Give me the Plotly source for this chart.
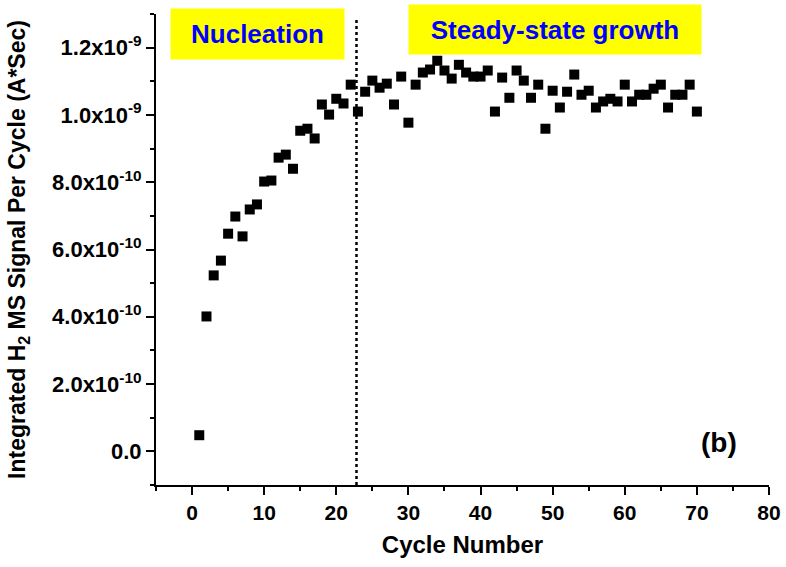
import plotly.graph_objects as go

cycles = list(range(1, 71))
signal = [
    0.048e-9, 0.401e-9, 0.523e-9, 0.567e-9, 0.647e-9, 0.698e-9, 0.639e-9, 0.719e-9, 0.734e-9, 0.802e-9,
    0.805e-9, 0.873e-9, 0.882e-9, 0.840e-9, 0.953e-9, 0.959e-9, 0.930e-9, 1.031e-9, 1.001e-9, 1.048e-9,
    1.034e-9, 1.090e-9, 1.010e-9, 1.069e-9, 1.102e-9, 1.081e-9, 1.093e-9, 1.031e-9, 1.114e-9, 0.977e-9,
    1.090e-9, 1.126e-9, 1.135e-9, 1.161e-9, 1.132e-9, 1.108e-9, 1.149e-9, 1.126e-9, 1.114e-9, 1.114e-9,
    1.132e-9, 1.010e-9, 1.111e-9, 1.051e-9, 1.132e-9, 1.102e-9, 1.051e-9, 1.090e-9, 0.959e-9, 1.072e-9,
    1.022e-9, 1.069e-9, 1.120e-9, 1.060e-9, 1.072e-9, 1.022e-9, 1.040e-9, 1.048e-9, 1.040e-9, 1.090e-9,
    1.040e-9, 1.060e-9, 1.060e-9, 1.078e-9, 1.090e-9, 1.022e-9, 1.060e-9, 1.060e-9, 1.090e-9, 1.010e-9,
]

x_ticks = [0, 10, 20, 30, 40, 50, 60, 70, 80]
y_tickvals = [0, 2e-10, 4e-10, 6e-10, 8e-10, 1.0e-9, 1.2e-9]
y_ticktext = ["0.0", "2.0x10<sup>-10</sup>", "4.0x10<sup>-10</sup>", "6.0x10<sup>-10</sup>",
              "8.0x10<sup>-10</sup>", "1.0x10<sup>-9</sup>", "1.2x10<sup>-9</sup>"]
divider_cycle = 22.8

FONT = "Liberation Sans"

fig = go.Figure()
fig.add_trace(go.Scatter(
    x=cycles, y=signal, mode="markers",
    marker=dict(symbol="square", size=10, color="black", line=dict(width=0)),
    showlegend=False,
))

fig.add_shape(type="line", xref="x", yref="paper", x0=divider_cycle, x1=divider_cycle,
              y0=0, y1=0.99, line=dict(color="black", width=2.5, dash="dot"))

fig.add_annotation(x=9.04, y=1.24e-9, xref="x", yref="y", text="<b>Nucleation</b>",
                   showarrow=False, bgcolor="#ffff00", width=171, height=48,
                   font=dict(family=FONT, size=26, color="#0000ff"))
fig.add_annotation(x=50.3, y=1.255e-9, xref="x", yref="y", text="<b>Steady-state growth</b>",
                   showarrow=False, bgcolor="#ffff00", width=290, height=47,
                   font=dict(family=FONT, size=26, color="#0000ff"))
fig.add_annotation(x=73.0, y=0.027e-9, xref="x", yref="y", text="<b>(b)</b>",
                   showarrow=False, font=dict(family=FONT, size=28, color="black"))

xtickfont = dict(family=FONT, size=21, color="black", weight="bold")
ytickfont = dict(family=FONT, size=22, color="black", weight="bold")

fig.update_layout(
    width=786, height=567,
    margin=dict(l=156, r=17, t=14, b=82),
    paper_bgcolor="white", plot_bgcolor="white",
    font=dict(family=FONT, color="black"),
    xaxis=dict(
        range=[-5, 80], tickvals=x_ticks, ticks="outside", ticklen=8, tickwidth=2,
        tickcolor="black", showline=True, linewidth=2, linecolor="black",
        showgrid=False, zeroline=False,
        tickfont=xtickfont,
        title=dict(text="<b>Cycle Number</b>", font=dict(family=FONT, size=24), standoff=13),
        minor=dict(ticks="outside", ticklen=4, tickwidth=2, tickcolor="black", dtick=5, tick0=0, showgrid=False),
        automargin=False,
    ),
    yaxis=dict(
        range=[-1e-10, 1.3e-9], tickvals=y_tickvals, ticktext=y_ticktext,
        ticks="outside", ticklen=8, tickwidth=2, tickcolor="black",
        showline=True, linewidth=2, linecolor="black",
        showgrid=False, zeroline=False,
        tickfont=ytickfont,
        title=dict(text="<b>Integrated H<sub>2</sub> MS Signal Per Cycle (A*Sec)</b>",
                   font=dict(family=FONT, size=23), standoff=20),
        minor=dict(ticks="outside", ticklen=4, tickwidth=2, tickcolor="black", dtick=1e-10, tick0=0, showgrid=False),
        automargin=False,
    ),
)

fig.write_html("out.html")
